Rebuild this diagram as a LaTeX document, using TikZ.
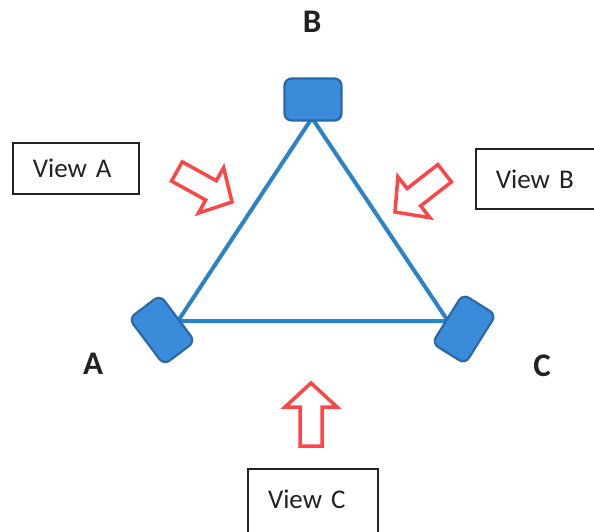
\documentclass[tikz,border=0pt]{standalone}
\usepackage{fontspec}
\setmainfont{Carlito}
\definecolor{nodeblue}{HTML}{3A8CDA}
\definecolor{nodeedge}{HTML}{2A68A6}
\definecolor{lineblue}{HTML}{2C82C6}
\definecolor{arrowred}{HTML}{FF4646}
\definecolor{boxedge}{HTML}{222222}
\tikzset{
  station/.style={draw=nodeedge, line width=2.2pt, fill=nodeblue, rounded corners=7pt, inner sep=0pt},
  leg/.style={draw=lineblue, line width=4pt, line cap=round},
  viewbox/.style={draw=boxedge, line width=1.8pt, inner xsep=20pt, inner ysep=0pt, align=left,
    font=\fontsize{27}{30}\selectfont, text=boxedge},
  vlabel/.style={font=\fontsize{33}{36}\selectfont\bfseries, text=boxedge, inner sep=0pt},
  viewarrow/.style={draw=arrowred, line width=3.5pt, fill=white, line join=miter}
}
\begin{document}
\begin{tikzpicture}[x=1pt,y=-1pt]
\useasboundingbox (0,0) rectangle (594,531);
\clip (0,0) rectangle (594,531);
% triangle vertices
\coordinate (vB) at (312,118);
\coordinate (vA) at (178,321);
\coordinate (vC) at (448,321);
\draw[leg] (vB) -- (vA) -- (vC) -- cycle;
% stations
\node[station, minimum width=57pt, minimum height=42pt] (sB) at (313,99.5) {};
\node[station, minimum width=58pt, minimum height=39pt, rotate=-53] (sA) at (162,330) {};
\node[station, minimum width=58pt, minimum height=39pt, rotate=58] (sC) at (464,329) {};
% labels
\node[vlabel] (lB) at (312,22) {B};
\node[vlabel] (lA) at (93,364) {A};
\node[vlabel] (lC) at (542,366) {C};
% view boxes
\node[viewbox, anchor=west, text width=86pt, minimum height=51pt] (wA) at (12,168.5) {View A};
\node[viewbox, anchor=west, text width=110pt, minimum height=60pt] (wB) at (475,179) {View B};
\node[viewbox, anchor=north, text width=90pt, minimum height=72pt, text depth=12pt] (wC) at (313,468) {View C};
% view arrows (tip at origin, pointing along +x)
\coordinate (tA) at (232,202);
\coordinate (tB) at (395,212);
\coordinate (tC) at (311,383);
\foreach \t/\a in {tA/-29, tB/218, tC/90}{
  \draw[viewarrow, shift={(\t)}, rotate=\a]
    (0,0) -- (-24,26) -- (-24,11) -- (-63,11) -- (-63,-11) -- (-24,-11) -- (-24,-26) -- cycle;
}
\end{tikzpicture}
\end{document}
